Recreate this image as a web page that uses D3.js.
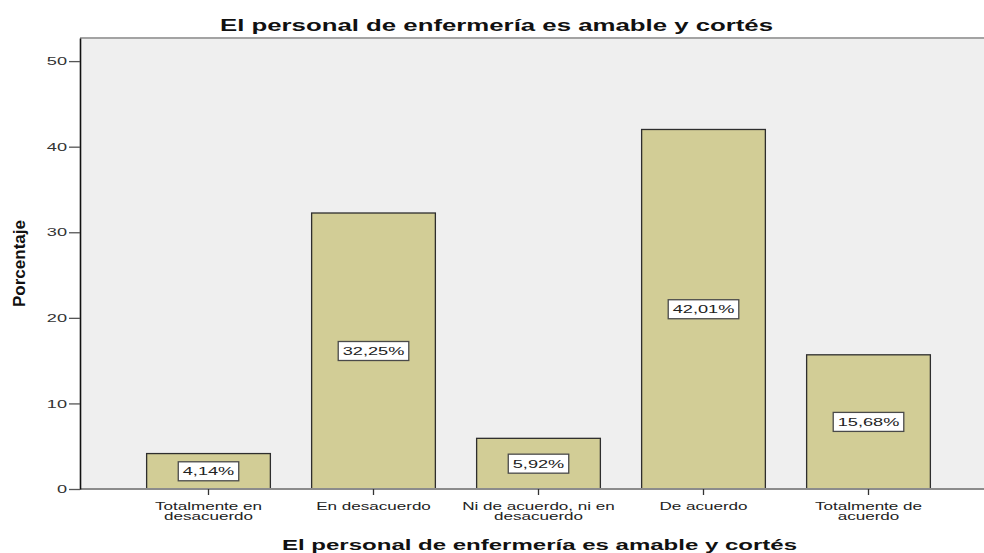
<!DOCTYPE html>
<html>
<head>
<meta charset="utf-8">
<script src="https://cdn.jsdelivr.net/npm/d3@7"></script>
<style>
  html, body { margin: 0; padding: 0; background: #ffffff; }
  svg { display: block; font-family: Arial, "Liberation Sans", sans-serif; }
</style>
</head>
<body>
<svg id="chart" width="984" height="553"></svg>
<script>
// ---- data ----
const categories = [
  "Totalmente en desacuerdo",
  "En desacuerdo",
  "Ni de acuerdo, ni en desacuerdo",
  "De acuerdo",
  "Totalmente de acuerdo"
];
const percentages = [4.14, 32.25, 5.92, 42.01, 15.68];
const yTicks = [0, 10, 20, 30, 40, 50];
const chartTitle = "El personal de enfermería es amable y cortés";
const xTitle = "El personal de enfermería es amable y cortés";
const yTitle = "Porcentaje";

// ---- layout ----
const W = 984, H = 553;
const plot = { left: 80, right: 984, top: 38, bottom: 489 };
const SX = 1.58; // horizontal stretch of the reference's text
const svg = d3.select("#chart");

const x = d3.scaleBand().domain(categories).range([126, 951])
  .paddingInner(0.25).paddingOuter(0.125);
const y = d3.scaleLinear().domain([0, 52.7]).range([plot.bottom, plot.top]);

// plot background
svg.append("rect")
  .attr("x", plot.left).attr("y", plot.top)
  .attr("width", plot.right - plot.left).attr("height", plot.bottom - plot.top)
  .attr("fill", "#efefef");

// top border
svg.append("line")
  .attr("x1", plot.left).attr("x2", plot.right)
  .attr("y1", plot.top).attr("y2", plot.top)
  .attr("stroke", "#a3a3a3").attr("stroke-width", 2);

// bars
svg.append("g").selectAll("rect").data(percentages).join("rect")
  .attr("x", (d, i) => x(categories[i]))
  .attr("y", d => y(d))
  .attr("width", x.bandwidth())
  .attr("height", d => y(0) - y(d))
  .attr("fill", "#d2cd96")
  .attr("stroke", "#2e2e2e").attr("stroke-width", 1.3);

// bottom baseline
svg.append("line")
  .attr("x1", plot.left).attr("x2", plot.right)
  .attr("y1", plot.bottom).attr("y2", plot.bottom)
  .attr("stroke", "#8c8c8c").attr("stroke-width", 2);

// y axis
const yAxis = svg.append("g")
  .attr("transform", `translate(${plot.left},0)`)
  .call(d3.axisLeft(y).tickValues(yTicks).tickSize(11).tickSizeOuter(0).tickPadding(2));
yAxis.select(".domain").attr("stroke", "#111").attr("stroke-width", 1.6);
yAxis.selectAll(".tick line").attr("stroke", "#555").attr("stroke-width", 1.3);
yAxis.selectAll(".tick text")
  .attr("font-size", 11.5).attr("fill", "#333")
  .attr("font-family", "Arial, 'Liberation Sans', sans-serif")
  .attr("x", -13 / SX)
  .attr("transform", `scale(${SX},1)`);

// x axis ticks
const xAxis = svg.append("g")
  .attr("transform", `translate(0,${plot.bottom})`)
  .call(d3.axisBottom(x).tickSize(6).tickSizeOuter(0).tickFormat(""));
xAxis.select(".domain").remove();
xAxis.selectAll(".tick line").attr("stroke", "#333").attr("stroke-width", 1.3);

// category labels (wrapped)
function wrap(s, maxChars) {
  const words = s.split(" ");
  const lines = [];
  let cur = "";
  words.forEach(w => {
    const t = cur ? cur + " " + w : w;
    if (t.length > maxChars && cur) { lines.push(cur); cur = w; }
    else cur = t;
  });
  if (cur) lines.push(cur);
  return lines;
}
const catG = svg.append("g");
categories.forEach(c => {
  const lines = wrap(c, 20);
  const g = catG.append("g")
    .attr("transform", `translate(${x(c) + x.bandwidth() / 2},${509.5}) scale(${SX},1)`);
  lines.forEach((ln, j) => {
    g.append("text")
      .attr("x", 0).attr("y", j * 10.5)
      .attr("text-anchor", "middle")
      .attr("font-size", 10.8).attr("fill", "#222")
      .text(ln);
  });
});

// value labels
const fmt = v => v.toFixed(2).replace(".", ",") + "%";
percentages.forEach((v, i) => {
  const cx = x(categories[i]) + x.bandwidth() / 2;
  const cy = y(v / 2);
  const g = svg.append("g");
  const rect = g.append("rect");
  const t = g.append("text")
    .attr("transform", `translate(${cx},${cy + 4}) scale(${SX},1)`)
    .attr("text-anchor", "middle")
    .attr("font-size", 11.5).attr("fill", "#222")
    .text(fmt(v));
  const w = t.node().getComputedTextLength() * SX + 9;
  rect.attr("x", cx - w / 2).attr("y", cy - 9.5)
    .attr("width", w).attr("height", 19)
    .attr("fill", "#ffffff").attr("stroke", "#4a4a4a").attr("stroke-width", 1.3);
});

// titles
svg.append("text")
  .attr("x", 496.5).attr("y", 31)
  .attr("text-anchor", "middle")
  .attr("font-size", 17).attr("font-weight", "bold").attr("fill", "#111")
  .attr("textLength", 553).attr("lengthAdjust", "spacingAndGlyphs")
  .text(chartTitle);

svg.append("text")
  .attr("x", 539.5).attr("y", 550)
  .attr("text-anchor", "middle")
  .attr("font-size", 15).attr("font-weight", "bold").attr("fill", "#111")
  .attr("textLength", 515).attr("lengthAdjust", "spacingAndGlyphs")
  .text(xTitle);

svg.append("text")
  .attr("transform", "translate(25,263.5) rotate(-90)")
  .attr("text-anchor", "middle")
  .attr("font-size", 16).attr("font-weight", "bold").attr("fill", "#111")
  .attr("textLength", 87).attr("lengthAdjust", "spacingAndGlyphs")
  .text(yTitle);
</script>
</body>
</html>
